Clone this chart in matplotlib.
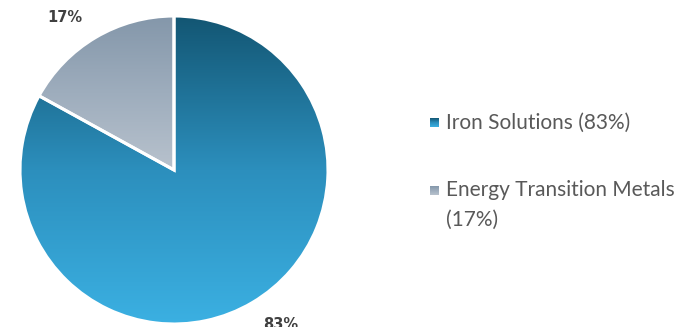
import numpy as np
import matplotlib
matplotlib.use("Agg")
import matplotlib.pyplot as plt
from matplotlib.colors import LinearSegmentedColormap

# Revenue split by segment
segments = ["Iron Solutions", "Energy Transition Metals"]
shares = [83, 17]
legend_labels = ["Iron Solutions (83%)", "Energy Transition Metals\n(17%)"]

# top / middle / bottom gradient colours for each slice
grad_stops = [
    ["#135673", "#2c8fbd", "#3bb0e2"],
    ["#8497aa", "#9eadbd", "#b8c2cd"],
]

W, H = 689, 327
fig = plt.figure(figsize=(W / 100, H / 100), dpi=100)
ax = fig.add_axes([0, 0, 1, 1])


def gradient_cmap(stops):
    top, mid, bot = stops
    return LinearSegmentedColormap.from_list("g", [bot, mid, top])


cx, cy, r = 174, H - 170, 154
wedges, _ = ax.pie(shares, center=(cx, cy), radius=r, startangle=90,
                   counterclock=False, frame=True,
                   wedgeprops=dict(edgecolor="white", linewidth=2.2))

grad = np.linspace(1, 0, 256).reshape(-1, 1)
for w, stops in zip(wedges, grad_stops):
    ext = w.get_path().get_extents()
    im = ax.imshow(grad, cmap=gradient_cmap(stops), aspect="auto",
                   origin="upper", extent=[ext.x0, ext.x1, ext.y0, ext.y1],
                   zorder=1, interpolation="bilinear")
    im.set_clip_path(w)
    w.set_facecolor("none")
    w.set_zorder(2)

# data labels
label_font = dict(family=["DejaVu Sans"], fontsize=10.5, fontweight="bold",
                  color="#404040")
ax.text(65, H - 18, f"{shares[1]}%", ha="center", va="center", **label_font)
ax.text(281, H - 317, f"{shares[0]}%", ha="center", va="top", **label_font)

# legend with gradient markers
legend_y = [H - 122.5, H - 190.5]
for lab, y, stops in zip(legend_labels, legend_y, grad_stops):
    ax.imshow(grad, cmap=gradient_cmap(stops), aspect="auto", origin="upper",
              extent=[430, 439, y - 4.5, y + 4.5], zorder=3)
    for i, line in enumerate(lab.split("\n")):
        ax.text(446, y - i * 29.5, line, ha="left", va="center",
                fontsize=15, color="#595959", family=["Lato", "DejaVu Sans"])

ax.set_xlim(0, W)
ax.set_ylim(0, H)
ax.set_aspect("equal")
ax.axis("off")
fig.savefig("out.png", dpi=100)
